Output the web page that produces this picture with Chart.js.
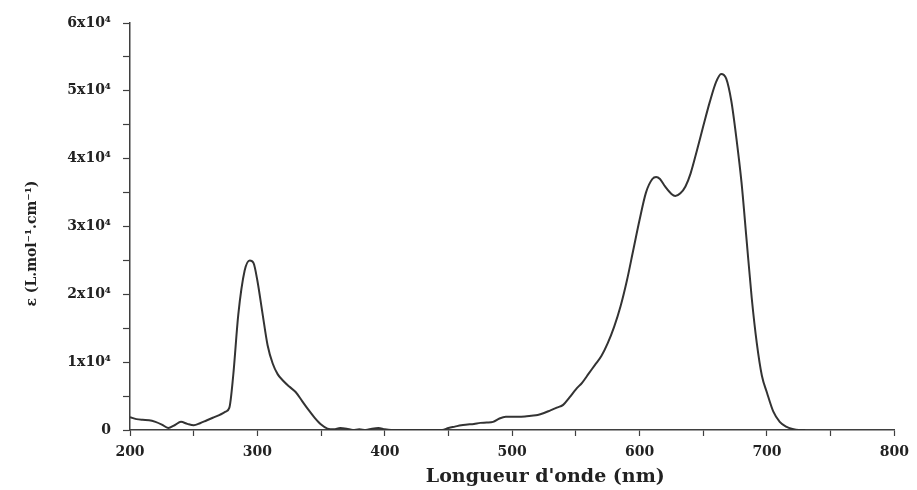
<!DOCTYPE html>
<html lang="fr">
<head>
<meta charset="UTF-8">
<title>Spectre UV-Visible</title>
<style>
    body { margin: 0; background: #fff; }
    #box { width: 917px; height: 490px; }
</style>
</head>
<body>
<div id="box"><canvas id="specChart"></canvas></div>
<script src="https://cdn.jsdelivr.net/npm/chart.js"></script>
<script>
    // longueurs d'onde (nm) et epsilon
    const wavelength = [200, 205, 210, 215, 220, 225, 230, 235, 240, 245, 250, 255, 260, 265, 270, 275, 278, 281, 285, 290, 294, 297, 300, 304, 308, 312, 316, 320, 325, 330, 335, 340, 345, 350, 355, 360, 365, 370, 375, 380, 385, 390, 395, 400, 405, 420, 445, 450, 455, 460, 465, 470, 475, 480, 485, 490, 495, 500, 505, 510, 515, 520, 525, 530, 535, 540, 545, 550, 555, 560, 565, 570, 575, 580, 585, 590, 595, 600, 605, 610, 613, 616, 620, 625, 628, 632, 636, 640, 645, 650, 655, 660, 664, 668, 672, 676, 680, 684, 688, 692, 696, 700, 705, 710, 715, 720, 725, 730];
    const epsilon = [1900, 1600, 1500, 1450, 1200, 800, 300, 700, 1200, 900, 700, 1000, 1400, 1800, 2200, 2700, 3300, 8000, 17000, 23500, 25000, 24600, 22000, 17200, 12500, 9800, 8200, 7300, 6400, 5600, 4300, 3000, 1800, 800, 200, 100, 300, 200, 0, 100, 0, 200, 300, 100, 0, 0, 0, 300, 500, 700, 800, 900, 1050, 1100, 1200, 1700, 1950, 1950, 1950, 2000, 2100, 2200, 2500, 2900, 3300, 3700, 4800, 6000, 7000, 8300, 9600, 10900, 12800, 15200, 18200, 22000, 26500, 31000, 35000, 37000, 37300, 37000, 35900, 34800, 34500, 34900, 35900, 37800, 41200, 44800, 48300, 51300, 52500, 51800, 48500, 43000, 36500, 28000, 19500, 12800, 8000, 5500, 2700, 1200, 500, 150, 0, 0];

    const xTitle = "Longueur d'onde (nm)";
    const yTitle = "ε (L.mol⁻¹.cm⁻¹)";

    let points = [];
    for (let i = 0; i < wavelength.length; i++) {
        points.push({ x: wavelength[i], y: epsilon[i] });
    }

    const ink = '#222';
    const axisColor = '#3f3f3f';
    const serif = "'DejaVu Serif', 'Liberation Serif', serif";

    const ctx = document.getElementById('specChart');
    const specChart = new Chart(ctx, {
        type: 'line',
        data: {
            datasets: [{
                data: points,
                borderColor: '#333',
                borderWidth: 2,
                pointRadius: 0,
                fill: false,
                cubicInterpolationMode: 'monotone'
            }]
        },
        options: {
            responsive: true,
            maintainAspectRatio: false,
            animation: false,
            layout: {
                padding: { left: 0, top: 23, right: 19, bottom: 0 }
            },
            plugins: {
                legend: { display: false },
                tooltip: { enabled: false }
            },
            scales: {
                x: {
                    type: 'linear',
                    min: 200,
                    max: 800,
                    afterFit: (scale) => { scale.height = 60; },
                    border: { display: true, color: axisColor, width: 1.5 },
                    grid: {
                        display: true,
                        drawOnChartArea: false,
                        drawTicks: true,
                        tickLength: 6,
                        tickColor: axisColor,
                        tickWidth: 1.2
                    },
                    ticks: {
                        stepSize: 50,
                        padding: 8,
                        color: ink,
                        maxRotation: 0,
                        autoSkip: false,
                        font: { family: serif, size: 14, weight: 'bold' },
                        callback: (v) => v % 100 === 0 ? String(v) : ''
                    },
                    title: {
                        display: true,
                        text: ' '.repeat(10) + xTitle,
                        color: ink,
                        font: { family: serif, size: 19, weight: 'bold' },
                        padding: { top: 0, bottom: 2 }
                    }
                },
                y: {
                    min: 0,
                    max: 60000,
                    afterFit: (scale) => { scale.width = 130; },
                    border: { display: true, color: axisColor, width: 1.5 },
                    grid: {
                        display: true,
                        drawOnChartArea: false,
                        drawTicks: true,
                        tickLength: 7,
                        tickColor: axisColor,
                        tickWidth: 1.2
                    },
                    ticks: {
                        stepSize: 5000,
                        padding: 12,
                        color: ink,
                        autoSkip: false,
                        font: { family: serif, size: 14, weight: 'bold' },
                        callback: function (v) {
                            if (v === 0) return '0';
                            if (v % 10000 === 0) return (v / 10000) + 'x10⁴';
                            return '';
                        }
                    },
                    title: {
                        display: true,
                        text: yTitle + ' '.repeat(7),
                        color: ink,
                        font: { family: serif, size: 14, weight: 'bold' },
                        padding: { top: 24, bottom: 0 }
                    }
                }
            }
        }
    });
</script>
</body>
</html>
